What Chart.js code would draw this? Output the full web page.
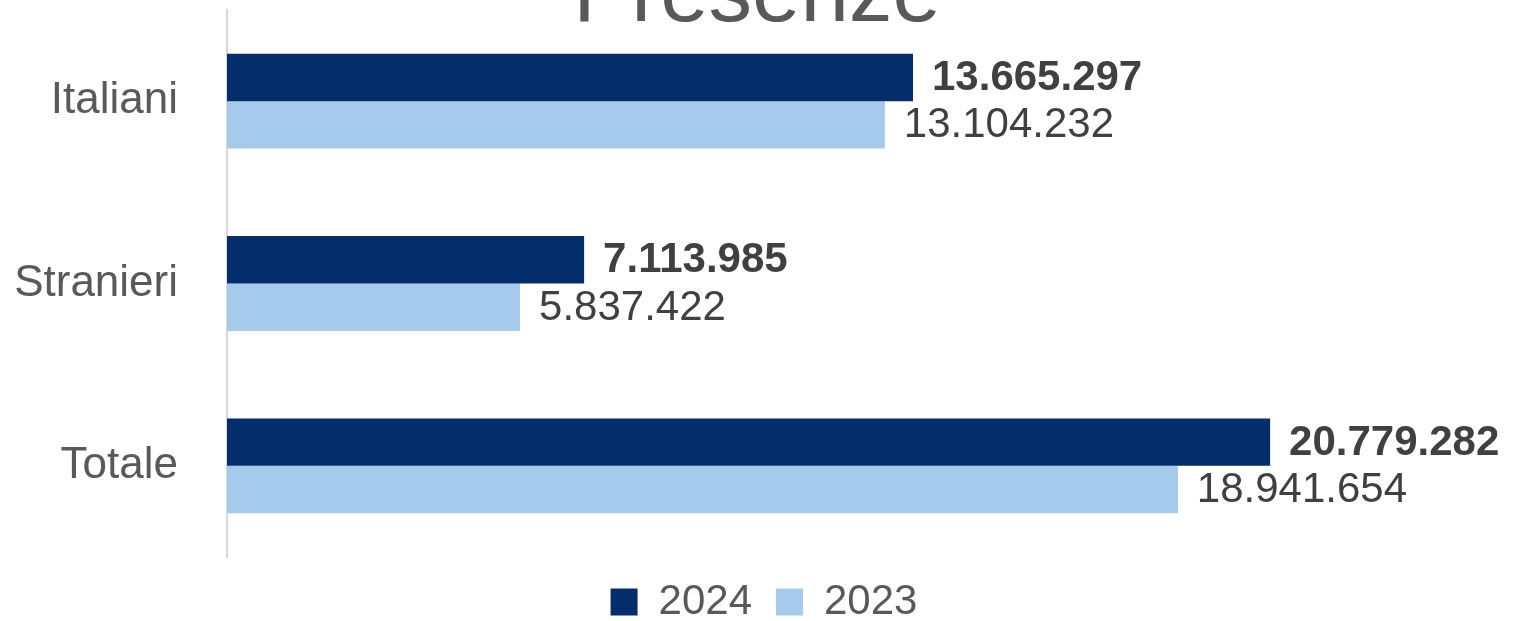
<!DOCTYPE html>
<html>
<head>
<meta charset="utf-8">
<script src="https://cdn.jsdelivr.net/npm/chart.js@4.4.0/dist/chart.umd.min.js"></script>
<style>
  html, body { margin: 0; padding: 0; background: #ffffff; }
  #wrap { position: relative; width: 1514px; height: 621px; }
</style>
</head>
<body>
<div id="wrap"><canvas id="c" width="1514" height="621"></canvas></div>
<script>
const chartTitle = "Presenze";
const categories = ["Italiani", "Stranieri", "Totale"];
const seriesNames = ["2024", "2023"];
const values2024 = [13665297, 7113985, 20779282];
const values2023 = [13104232, 5837422, 18941654];
const xMax = 25000000;

const FONT = "'Liberation Sans', Arial, sans-serif";

function fmt(v) {
  return String(v).replace(/\B(?=(\d{3})+(?!\d))/g, ".");
}

const titlePlugin = {
  id: 'cutTitle',
  afterDraw(chart) {
    const ctx = chart.ctx;
    ctx.save();
    ctx.font = "87px " + FONT;
    ctx.fillStyle = "#595959";
    ctx.textAlign = "center";
    ctx.textBaseline = "alphabetic";
    ctx.fillText(chartTitle, 757, 21);
    ctx.restore();
  }
};

const labelPlugin = {
  id: 'barLabels',
  afterDatasetsDraw(chart) {
    const ctx = chart.ctx;
    ctx.save();
    ctx.textAlign = "left";
    ctx.textBaseline = "middle";
    ctx.fillStyle = "#404040";
    chart.data.datasets.forEach((ds, i) => {
      const meta = chart.getDatasetMeta(i);
      ctx.font = (i === 0 ? "bold " : "") + "42px " + FONT;
      meta.data.forEach((bar, j) => {
        ctx.fillText(fmt(ds.data[j]), bar.x + 19, bar.y + 1);
      });
    });
    ctx.restore();
  }
};

const LEFT_PAD = 10;
const legendShift = {
  id: 'legendShift',
  afterLayout(chart) {
    const s = (46 - LEFT_PAD) / 2;
    chart.legend.left += s;
    chart.legend.right += s;
  }
};

new Chart(document.getElementById('c'), {
  type: 'bar',
  data: {
    labels: categories,
    datasets: [
      { label: seriesNames[0], data: values2024, backgroundColor: '#032D6B', categoryPercentage: 0.52, barPercentage: 1.0 },
      { label: seriesNames[1], data: values2023, backgroundColor: '#A6CAEC', categoryPercentage: 0.52, barPercentage: 1.0 }
    ]
  },
  options: {
    indexAxis: 'y',
    responsive: false,
    animation: false,
    layout: { padding: { top: 10, right: 32, bottom: -12, left: LEFT_PAD } },
    scales: {
      x: { display: false, min: 0, max: xMax },
      y: {
        grid: { display: false },
        border: { display: true, color: '#D9D9D9', width: 2 },
        ticks: { color: '#595959', font: { family: FONT, size: 44 }, padding: 41 },
        afterFit(scale) {
          scale.width = 227 - LEFT_PAD;
          scale.paddingTop = 0;
          scale.paddingBottom = 0;
        }
      }
    },
    plugins: {
      legend: {
        position: 'bottom',
        labels: {
          color: '#595959',
          font: { family: FONT, size: 42 },
          boxWidth: 27,
          boxHeight: 27,
          padding: 24
        }
      },
      title: { display: false },
      tooltip: { enabled: false }
    }
  },
  plugins: [titlePlugin, labelPlugin, legendShift]
});
</script>
</body>
</html>
